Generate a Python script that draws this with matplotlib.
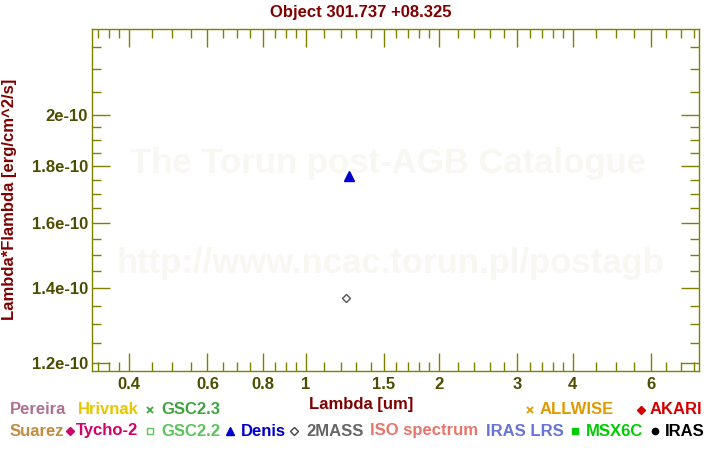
import matplotlib
matplotlib.use("Agg")
import matplotlib.pyplot as plt
from matplotlib.lines import Line2D
from matplotlib.ticker import FixedLocator, FixedFormatter, NullFormatter

plt.rcParams['font.family'] = ['Liberation Sans', 'DejaVu Sans']
plt.rcParams['font.weight'] = 'bold'

# ---- data ----
denis_lam = [1.25]
denis_flux = [1.765e-10]
twomass_lam = [1.235]
twomass_flux = [1.371e-10]

x_major = [0.4, 0.6, 0.8, 1, 1.5, 2, 3, 4, 6]
x_major_labels = ["0.4", "0.6", "0.8", "1", "1.5", "2", "3", "4", "6"]
x_minor = [0.34, 0.36, 0.38, 0.45, 0.5, 0.55, 0.65, 0.7, 0.75, 0.85, 0.9, 0.95,
           1.1, 1.2, 1.3, 1.4, 1.6, 1.7, 1.8, 1.9, 2.2, 2.4, 2.6, 2.8,
           3.2, 3.4, 3.6, 3.8, 4.5, 5, 5.5, 6.5, 7, 7.5]
y_major = [1.2e-10, 1.4e-10, 1.6e-10, 1.8e-10, 2.0e-10]
y_major_labels = ["1.2e-10", "1.4e-10", "1.6e-10", "1.8e-10", "2e-10"]
y_minor = [1.25e-10, 1.3e-10, 1.35e-10, 1.45e-10, 1.5e-10, 1.55e-10,
           1.65e-10, 1.7e-10, 1.75e-10, 1.85e-10, 1.9e-10, 1.95e-10,
           2.1e-10, 2.2e-10, 2.3e-10]

title = "Object 301.737 +08.325"
xlabel = "Lambda [um]"
ylabel = "Lambda*Flambda [erg/cm^2/s]"

# legend entries: (label, color, marker, marker_facecolor)
legend_row1 = [
    ("Pereira", "#b07090", None, None),
    ("Hrivnak", "#e6c700", None, None),
    ("GSC2.3", "#3fa43f", "x", None),
    ("ALLWISE", "#e09a00", "x", None),
    ("AKARI", "#d40000", "D", "#d40000"),
]
legend_row2 = [
    ("Suarez", "#c48a3e", None, None),
    ("Tycho-2", "#d4006c", "D", "#d4006c"),
    ("GSC2.2", "#5cc45c", "s", "white"),
    ("Denis", "#0000cc", "^", "#0000cc"),
    ("2MASS", "#666666", "D", "white"),
    ("ISO spectrum", "#e8756a", None, None),
    ("IRAS LRS", "#6674d8", None, None),
    ("MSX6C", "#00cc00", "s", "#00cc00"),
    ("IRAS", "#000000", "o", "#000000"),
]

W, H = 720, 450
fig = plt.figure(figsize=(7.2, 4.5), dpi=100)
ax = fig.add_axes([92.3 / W, 1 - 371 / H, (699 - 92.3) / W, (371 - 29.3) / H])

axis_col = "#808000"
tick_col = "#4d4d00"
red = "#800000"

# watermark
ax.text(0.488, 1 - (163 - 29.3) / 341.7, "The Torun post-AGB Catalogue", transform=ax.transAxes,
        ha="center", va="center", fontsize=25, color="#f8f7f2", fontweight="bold", zorder=0)
ax.text(0.491, 1 - (263 - 29.3) / 341.7, "http://www.ncac.torun.pl/postagb", transform=ax.transAxes,
        ha="center", va="center", fontsize=25, color="#f8f7f2", fontweight="bold", zorder=0)

ax.plot(denis_lam, denis_flux, linestyle="none", marker="^", ms=6.5, color="#0000cc", zorder=3)
ax.plot(twomass_lam, twomass_flux, linestyle="none", marker="D", ms=4.5, mfc="white",
        mec="#555555", mew=1.0, zorder=3)

ax.set_xscale("log")
ax.set_yscale("log")
ax.set_xlim(0.33, 7.7)
ax.set_ylim(1.1796e-10, 2.388e-10)

ax.xaxis.set_major_locator(FixedLocator(x_major))
ax.xaxis.set_major_formatter(FixedFormatter(x_major_labels))
ax.xaxis.set_minor_locator(FixedLocator(x_minor))
ax.xaxis.set_minor_formatter(NullFormatter())
ax.yaxis.set_major_locator(FixedLocator(y_major))
ax.yaxis.set_major_formatter(FixedFormatter(y_major_labels))
ax.yaxis.set_minor_locator(FixedLocator(y_minor))
ax.yaxis.set_minor_formatter(NullFormatter())

for s in ax.spines.values():
    s.set_color(axis_col)
    s.set_linewidth(1.0)
ax.tick_params(which="both", direction="in", top=True, right=True, color=axis_col, width=1.0)
ax.tick_params(which="major", length=13, labelsize=12, labelcolor=tick_col)
ax.tick_params(which="minor", length=6.5)
ax.tick_params(axis="x", which="major", pad=4)
ax.tick_params(axis="y", which="major", pad=3)
for lab in ax.get_xticklabels() + ax.get_yticklabels():
    lab.set_fontweight("bold")

ax.set_xlabel(xlabel, fontsize=12, fontweight="bold", color=red, va="center")
ax.xaxis.set_label_coords((361 - 92.3) / (699 - 92.3), (371 - 404) / 341.7)
ax.set_ylabel(ylabel, fontsize=12, fontweight="bold", color=red, va="center")
ax.yaxis.set_label_coords((10 - 92.3) / (699 - 92.3), 1 - (199 - 29.3) / 341.7)

fig.text(361 / W, 1 - 12 / H, title, ha="center", va="center", fontsize=12,
         fontweight="bold", color=red)

# legend rows (positions in pixels)
row1_pos = [(10, None), (78, None), (161, 150), (540, 530), (650, 641)]
row2_pos = [(10, None), (76, 70), (161, 150), (241, 230), (306, 294),
            (370, None), (486, None), (586, 575), (665, 655)]


def draw_row(entries, positions, ypix):
    yf = 1 - ypix / H
    for (lab, col, mk, fc), (tx, mx) in zip(entries, positions):
        fig.text(tx / W, yf, lab, ha="left", va="center", fontsize=12,
                 fontweight="bold", color=col)
        if mk is not None:
            mec = col if lab != "2MASS" else "#444444"
            size = {"x": 5, "D": 4.5, "s": 4.5, "^": 6, "o": 4.5}[mk]
            fig.add_artist(Line2D([mx / W], [yf], transform=fig.transFigure,
                                  marker=mk, ms=size, mfc=fc, mec=mec, mew=1.3 if mk == "x" else 1.0,
                                  linestyle="none"))


draw_row(legend_row1, row1_pos, 410)
draw_row(legend_row2, row2_pos, 431)

fig.savefig("out.png", dpi=100)
